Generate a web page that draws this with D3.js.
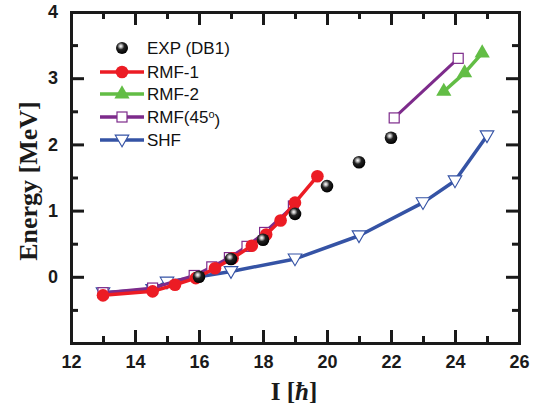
<!DOCTYPE html>
<html>
<head>
<meta charset="utf-8">
<script src="https://cdn.jsdelivr.net/npm/d3@7"></script>
<style>
  body { margin: 0; background: #fff; }
  svg { display: block; }
</style>
</head>
<body>
<div id="chart"></div>
<script>
// spin values and energies
var expI = [16, 17, 18, 19, 20, 21, 22],
    expE = [0, 0.27, 0.56, 0.95, 1.37, 1.73, 2.10];
var rmf1I = [13.0, 14.55, 15.25, 15.9, 16.5, 17.05, 17.65, 18.1, 18.55, 19.0, 19.7],
    rmf1E = [-0.28, -0.22, -0.12, -0.02, 0.13, 0.28, 0.47, 0.64, 0.85, 1.12, 1.52];
var rmf2I = [23.65, 24.3, 24.85],
    rmf2E = [2.80, 3.08, 3.38];
var rmf45I = [13.0, 14.55, 15.85, 16.4, 16.95, 17.5, 18.05, 18.95],
    rmf45E = [-0.24, -0.17, 0.02, 0.15, 0.29, 0.46, 0.67, 1.07];
var rmf45hiI = [22.1, 24.1],
    rmf45hiE = [2.40, 3.30];
var shfI = [13.0, 14.55, 15.0, 17.0, 19.0, 21.0, 23.0, 24.0, 25.0],
    shfE = [-0.24, -0.19, -0.08, 0.08, 0.27, 0.62, 1.12, 1.45, 2.13];
var xTicks = [12, 14, 16, 18, 20, 22, 24, 26],
    yTicks = [0, 1, 2, 3, 4];

function chart(){
  var W = 538, H = 411,
      margin = {top: 12, right: 19, bottom: 68, left: 71},
      width = W - margin.left - margin.right,
      height = H - margin.top - margin.bottom,
      ink = '#1a1a1a';

  function pts(xs, ys) { return xs.map(function(v, i) { return {x: v, y: ys[i]}; }); }

  var svg = d3.select('#chart').append('svg')
      .attr('width', W).attr('height', H);

  var defs = svg.append('defs');
  var grad = defs.append('radialGradient').attr('id', 'ball')
      .attr('cx', '40%').attr('cy', '35%').attr('r', '65%');
  grad.append('stop').attr('offset', '0%').attr('stop-color', '#ffffff');
  grad.append('stop').attr('offset', '18%').attr('stop-color', '#bbbbbb');
  grad.append('stop').attr('offset', '45%').attr('stop-color', '#222222');
  grad.append('stop').attr('offset', '100%').attr('stop-color', '#000000');

  var g = svg.append('g').attr('transform', 'translate(' + margin.left + ',' + margin.top + ')');

  var x = d3.scaleLinear().domain([12, 26]).range([0, width]);
  var y = d3.scaleLinear().domain([-1, 4]).range([height, 0]);

  var xMinor = d3.range(13, 26, 2), yMinor = d3.range(-0.5, 4, 1);

  var line = d3.line().x(function(d) { return x(d.x); }).y(function(d) { return y(d.y); });

  var red = '#ec1c24', green = '#62bd45', purple = '#7d2b8b', blue = '#3553a5';
  var downTri = d3.symbol().type(d3.symbolTriangle).size(80),
      upTri = d3.symbol().type(d3.symbolTriangle).size(100);

  function series(data, color, lw) {
    g.append('path').datum(data).attr('d', line)
      .attr('fill', 'none').attr('stroke', color).attr('stroke-width', lw)
      .attr('stroke-linejoin', 'round');
  }

  // SHF
  var shf = pts(shfI, shfE);
  series(shf, blue, 3.5);
  g.selectAll('.shf').data(shf).enter().append('path')
      .attr('transform', function(d) { return 'translate(' + x(d.x) + ',' + (y(d.y) - 1) + ') rotate(180)'; })
      .attr('d', downTri).attr('fill', '#fff').attr('stroke', blue).attr('stroke-width', 1.1);

  // RMF(45)
  var r45 = pts(rmf45I, rmf45E), r45hi = pts(rmf45hiI, rmf45hiE);
  series(r45, purple, 3);
  series(r45hi, purple, 3);
  g.selectAll('.r45').data(r45.concat(r45hi)).enter().append('rect')
      .attr('x', function(d) { return x(d.x) - 5; })
      .attr('y', function(d) { return y(d.y) - 5; })
      .attr('width', 10).attr('height', 10)
      .attr('fill', '#fff').attr('stroke', purple).attr('stroke-width', 1.2);

  // RMF-1
  var r1 = pts(rmf1I, rmf1E);
  series(r1, red, 3.5);
  g.selectAll('.r1').data(r1).enter().append('circle')
      .attr('cx', function(d) { return x(d.x); })
      .attr('cy', function(d) { return y(d.y); })
      .attr('r', 6.3).attr('fill', red);

  // RMF-2
  var r2 = pts(rmf2I, rmf2E);
  series(r2, green, 3.5);
  g.selectAll('.r2').data(r2).enter().append('path')
      .attr('transform', function(d) { return 'translate(' + x(d.x) + ',' + y(d.y) + ')'; })
      .attr('d', upTri).attr('fill', green);

  // EXP
  g.selectAll('.exp').data(pts(expI, expE)).enter().append('circle')
      .attr('cx', function(d) { return x(d.x); })
      .attr('cy', function(d) { return y(d.y); })
      .attr('r', 6.3).attr('fill', 'url(#ball)');

  // axes drawn last, on top of the data
  function styleAxis(sel) {
    sel.select('.domain').attr('stroke', ink).attr('stroke-width', 3);
    sel.selectAll('.tick line').attr('stroke', ink).attr('stroke-width', 3);
    sel.selectAll('.tick text').attr('fill', ink)
      .attr('font-family', 'Arial, "Liberation Sans", sans-serif')
      .attr('font-size', 18).attr('font-weight', 'bold');
  }
  var axB = g.append('g').attr('transform', 'translate(0,' + height + ')')
      .call(d3.axisBottom(x).tickValues(xTicks).tickSize(-13).tickPadding(12).tickFormat(d3.format('d')));
  styleAxis(axB);
  var axBm = g.append('g').attr('transform', 'translate(0,' + height + ')')
      .call(d3.axisBottom(x).tickValues(xMinor).tickSize(-7).tickFormat(''));
  styleAxis(axBm);
  var axT = g.append('g')
      .call(d3.axisTop(x).tickValues(xTicks).tickSize(-13).tickFormat(''));
  styleAxis(axT);
  var axTm = g.append('g')
      .call(d3.axisTop(x).tickValues(xMinor).tickSize(-7).tickFormat(''));
  styleAxis(axTm);
  var axL = g.append('g')
      .call(d3.axisLeft(y).tickValues(yTicks).tickSize(-13).tickPadding(13).tickFormat(d3.format('d')));
  styleAxis(axL);
  var axLm = g.append('g')
      .call(d3.axisLeft(y).tickValues(yMinor).tickSize(-7).tickFormat(''));
  styleAxis(axLm);
  var axR = g.append('g').attr('transform', 'translate(' + width + ',0)')
      .call(d3.axisRight(y).tickValues(yTicks).tickSize(-13).tickFormat(''));
  styleAxis(axR);
  var axRm = g.append('g').attr('transform', 'translate(' + width + ',0)')
      .call(d3.axisRight(y).tickValues(yMinor).tickSize(-7).tickFormat(''));
  styleAxis(axRm);

  // axis titles
  svg.append('text')
      .attr('transform', 'translate(37,181) rotate(-90)')
      .attr('text-anchor', 'middle')
      .attr('fill', ink)
      .attr('font-family', '"Liberation Serif", "Times New Roman", serif')
      .attr('font-size', 26).attr('font-weight', 'bold')
      .text('Energy [MeV]');
  var xl = svg.append('text')
      .attr('x', 294).attr('y', 400)
      .attr('text-anchor', 'middle')
      .attr('fill', ink)
      .attr('font-family', '"Liberation Serif", "Times New Roman", serif')
      .attr('font-size', 25).attr('font-weight', 'bold');
  xl.append('tspan').text('I [');
  xl.append('tspan').attr('font-style', 'italic').text('ħ');
  xl.append('tspan').text(']');

  // legend
  var legend = [
    {name: 'EXP (DB1)', type: 'exp'},
    {name: 'RMF-1', type: 'r1', color: red},
    {name: 'RMF-2', type: 'r2', color: green},
    {name: 'RMF(45', type: 'r45', color: purple},
    {name: 'SHF', type: 'shf', color: blue}
  ];
  var ly = [48, 72, 94, 117, 140];
  var lg = svg.append('g');
  legend.forEach(function(d, i) {
    var row = lg.append('g').attr('transform', 'translate(0,' + ly[i] + ')');
    var cx = 122;
    if (d.type !== 'exp') {
      row.append('line').attr('x1', 100).attr('x2', 144).attr('y1', 0).attr('y2', 0)
        .attr('stroke', d.color).attr('stroke-width', 3.5);
    }
    if (d.type === 'exp') row.append('circle').attr('cx', cx).attr('cy', 0).attr('r', 6).attr('fill', 'url(#ball)');
    if (d.type === 'r1') row.append('circle').attr('cx', cx).attr('cy', 0).attr('r', 6.3).attr('fill', red);
    if (d.type === 'r2') row.append('path').attr('transform', 'translate(' + cx + ',0)')
        .attr('d', upTri).attr('fill', green);
    if (d.type === 'r45') row.append('rect').attr('x', cx - 5).attr('y', -5).attr('width', 10).attr('height', 10)
        .attr('fill', '#fff').attr('stroke', purple).attr('stroke-width', 1.2);
    if (d.type === 'shf') row.append('path').attr('transform', 'translate(' + cx + ',-1) rotate(180)')
        .attr('d', downTri).attr('fill', '#fff').attr('stroke', blue).attr('stroke-width', 1.1);
    var t = row.append('text').attr('x', 147).attr('y', 0).attr('dy', '0.36em')
        .attr('font-family', 'Arial, "Liberation Sans", sans-serif').attr('font-size', 17)
        .attr('fill', '#111')
        .text(d.name);
    if (d.type === 'r45') {
      t.append('tspan').attr('dy', '-0.45em').attr('font-size', 11).text('o');
      t.append('tspan').attr('dy', '0.45em').text(')');
    }
  });
}

chart();
</script>
</body>
</html>
